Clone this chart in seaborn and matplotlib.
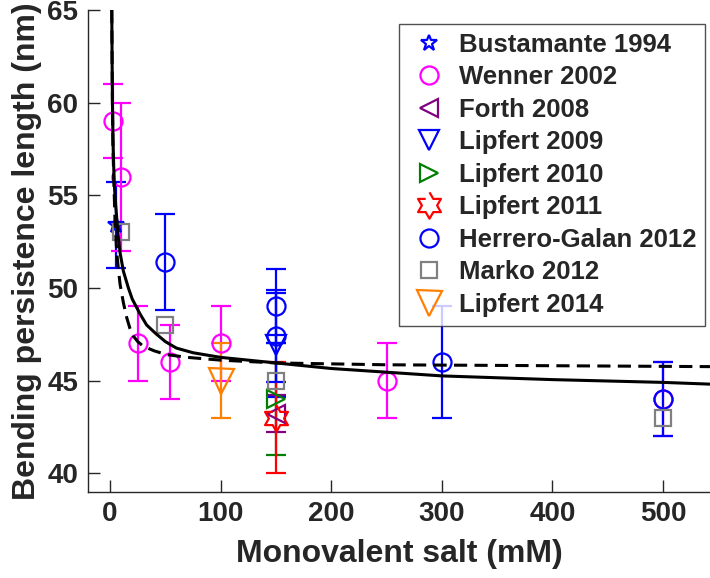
import numpy as np
import matplotlib
matplotlib.use("Agg")
import matplotlib.pyplot as plt
import seaborn as sns
from matplotlib.lines import Line2D

# measured points (salt in mM, persistence length in nm, error)
bust_x = [5]
bust_y = [53.4]
bust_err = [2.3]

wenner_x = [2.5, 10, 25, 54, 100, 250, 500]
wenner_y = [59, 56, 47, 46, 47, 45, 44]
wenner_err = [2, 4, 2, 2, 2, 2, 2]

forth_x = [150]
forth_y = [43.2]
forth_err = [1.0]

lip09_x = [150]
lip09_y = [46.9]
lip09_err = [2.8]

lip10_x = [150]
lip10_y = [44]
lip10_err = [3]

lip11_x = [150]
lip11_y = [43]
lip11_err = [3]

hg_x = [50, 150, 150, 300, 500]
hg_y = [51.4, 49, 47.4, 46, 44]
hg_err = [2.6, 2, 2.5, 3, 2]

marko_x = [10, 50, 150, 500]
marko_y = [53, 48, 45, 43]

lip14_x = [100]
lip14_y = [45]
lip14_err = [2]

# model curves
solid_x = [1.5, 1.8, 2.1, 2.6, 3.6, 4.5, 5.4, 7, 9, 12, 16.5, 20, 27, 33, 41, 50, 60,
           75, 100, 125, 150, 200, 250, 300, 400, 500, 545]
solid_y = [65, 62.3, 60, 58, 55.8, 54.9, 54.2, 53, 51.9, 50.9, 50, 49.4, 48.6, 48.0, 47.55,
           47.1, 46.75, 46.5, 46.25, 46.1, 45.95, 45.65, 45.45, 45.25, 45.05, 44.9, 44.8]
dash_x = [1.5, 1.8, 2.1, 2.6, 3.6, 4.5, 6, 7.5, 9, 12, 15, 18, 21, 25, 30, 40, 51, 70,
          100, 150, 250, 400, 545]
dash_y = [65, 62.2, 60, 57.5, 55.3, 53.5, 51.9, 51.0, 50.2, 49.2, 48.4, 47.8, 47.4, 47.1,
          46.85, 46.6, 46.4, 46.25, 46.1, 45.95, 45.85, 45.8, 45.75]

sns.set_style("ticks")
plt.rcParams['font.family'] = ['Liberation Sans', 'DejaVu Sans']
plt.rcParams['font.weight'] = 'bold'

# six-pointed star marker
ang = np.arange(12) * np.pi / 6
rad = np.where(np.arange(12) % 2 == 0, 1.0, 0.577)
hexagram = list(zip(rad * np.sin(ang), rad * np.cos(ang)))

fig = plt.figure(figsize=(7.1, 5.78), dpi=100)
ax = fig.add_axes([88 / 710, 1 - 491.7 / 578, 1 - 88 / 710, (491.7 - 10) / 578])

series = [
    ("Bustamante 1994", bust_x, bust_y, bust_err, '*', 12, '#0000FF'),
    ("Wenner 2002", wenner_x, wenner_y, wenner_err, 'o', 13, '#FF00FF'),
    ("Forth 2008", forth_x, forth_y, forth_err, '<', 13, '#800080'),
    ("Lipfert 2009", lip09_x, lip09_y, lip09_err, 'v', 14, '#0000FF'),
    ("Lipfert 2010", lip10_x, lip10_y, lip10_err, '>', 13, '#008000'),
    ("Lipfert 2011", lip11_x, lip11_y, lip11_err, hexagram, 19, '#FF0000'),
    ("Herrero-Galan 2012", hg_x, hg_y, hg_err, 'o', 13, '#0000FF'),
    ("Marko 2012", marko_x, marko_y, None, 's', 12, '#808080'),
    ("Lipfert 2014", lip14_x, lip14_y, lip14_err, 'v', 18, '#FF8000'),
]

handles = []
for label, xs, ys, err, mk, ms, col in series:
    ax.errorbar(xs, ys, yerr=err, fmt='none', ecolor=col, elinewidth=1.6,
                capsize=7.2, capthick=1.6, zorder=2)
    ax.plot(xs, ys, linestyle='none', marker=mk, markersize=ms,
            markerfacecolor='none', markeredgecolor=col, markeredgewidth=1.6, zorder=3)
    handles.append(Line2D([], [], linestyle='none', marker=mk, markersize=ms,
                          markerfacecolor='none', markeredgecolor=col,
                          markeredgewidth=1.6, label=label))

sns.lineplot(x=solid_x, y=solid_y, ax=ax, color='black', linewidth=2.2,
             sort=False, estimator=None, zorder=4)
sns.lineplot(x=dash_x, y=dash_y, ax=ax, color='black', linewidth=2.2,
             sort=False, estimator=None, zorder=4, linestyle=(0, (4.3, 2.4)))

ax.set_xlim(-20, 542.5)
ax.set_ylim(39, 65)
ax.set_xticks([0, 100, 200, 300, 400, 500])
ax.set_yticks([40, 45, 50, 55, 60, 65])

for s in ['top', 'right']:
    ax.spines[s].set_visible(False)
for s in ['left', 'bottom']:
    ax.spines[s].set_color('#262626')
    ax.spines[s].set_linewidth(1.0)

ax.tick_params(direction='in', length=8.5, width=1.0, color='#262626',
               labelcolor='#262626', labelsize=20, pad=7)
for t in ax.get_xticklabels() + ax.get_yticklabels():
    t.set_fontweight('bold')

ax.set_xlabel("Monovalent salt (mM)", fontsize=23, fontweight='bold', color='#262626', labelpad=8)
ax.set_ylabel("Bending persistence length (nm)", fontsize=23, fontweight='bold', color='#262626', labelpad=4)

leg = ax.legend(handles=handles, loc='upper right',
                bbox_to_anchor=(705 / 710, 1 - 24 / 578), bbox_transform=fig.transFigure,
                borderaxespad=0, prop={'size': 18.5, 'weight': 'bold'},
                handlelength=1.6, handletextpad=0.35, labelspacing=0.33,
                borderpad=0.35, frameon=True, fancybox=False)
leg.get_frame().set_edgecolor('#262626')
leg.get_frame().set_linewidth(1.0)
leg.set_zorder(10)

fig.savefig("out.png", dpi=100)
